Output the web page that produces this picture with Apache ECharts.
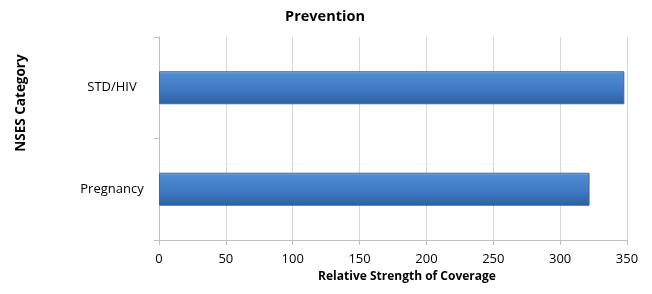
<!DOCTYPE html>
<html>
<head>
<meta charset="utf-8">
<script src="https://cdn.jsdelivr.net/npm/echarts@6/dist/echarts.min.js"></script>
<style>
  html, body { margin: 0; padding: 0; background: #fff; }
  #chart { width: 652px; height: 294px; }
</style>
</head>
<body>
<div id="chart"></div>
<script>
const categories = ['Pregnancy', 'STD/HIV']
const coverage = [322, 348]
const xTicks = { min: 0, max: 350, interval: 50 }

const FONT = '"Open Sans", "Liberation Sans", sans-serif'

const chart = echarts.init(document.getElementById('chart'))

chart.setOption({
  animation: false,
  title: {
    text: 'Prevention',
    left: 320,
    top: 4,
    textAlign: 'center',
    textStyle: { fontFamily: FONT, fontSize: 14.5, fontWeight: 'bold', color: '#000' },
  },
  // y axis title sits above the plot centre in the original, so place it by hand
  graphic: [{
    type: 'text',
    x: 14,
    y: 103,
    rotation: Math.PI / 2,
    style: {
      text: 'NSES Category',
      font: 'bold 13.5px ' + FONT,
      fill: '#000',
      align: 'center',
      verticalAlign: 'top',
    },
  }],
  grid: { left: 159, right: 25, top: 37, bottom: 54 },
  xAxis: {
    type: 'value',
    min: xTicks.min,
    max: xTicks.max,
    interval: xTicks.interval,
    name: 'Relative Strength of Coverage',
    nameLocation: 'middle',
    nameGap: 31,
    nameTextStyle: { fontFamily: FONT, fontSize: 12, fontWeight: 'bold', color: '#000', padding: [0, 0, 0, 28] },
    axisLine: { show: true, lineStyle: { color: '#bfbfbf' } },
    axisTick: { show: true, length: 5, lineStyle: { color: '#bfbfbf' } },
    axisLabel: { fontFamily: FONT, fontSize: 13, color: '#000', margin: 13 },
    splitLine: { show: true, lineStyle: { color: '#d9d9d9' } },
  },
  yAxis: {
    type: 'category',
    data: categories,
    axisLine: { show: true, lineStyle: { color: '#bfbfbf' } },
    axisTick: { show: true, length: 5, lineStyle: { color: '#bfbfbf' } },
    axisLabel: { fontFamily: FONT, fontSize: 13, color: '#000', margin: 47, align: 'center' },
  },
  series: [{
    type: 'bar',
    data: coverage,
    barWidth: 33,
    itemStyle: {
      color: new echarts.graphic.LinearGradient(0, 0, 0, 1, [
        { offset: 0, color: '#8fb8e6' },
        { offset: 0.08, color: '#4f8bd1' },
        { offset: 0.6, color: '#3d78c2' },
        { offset: 1, color: '#2d5f9e' },
      ]),
      borderColor: '#3a6aa6',
      borderWidth: 1,
    },
  }],
})
</script>
</body>
</html>
